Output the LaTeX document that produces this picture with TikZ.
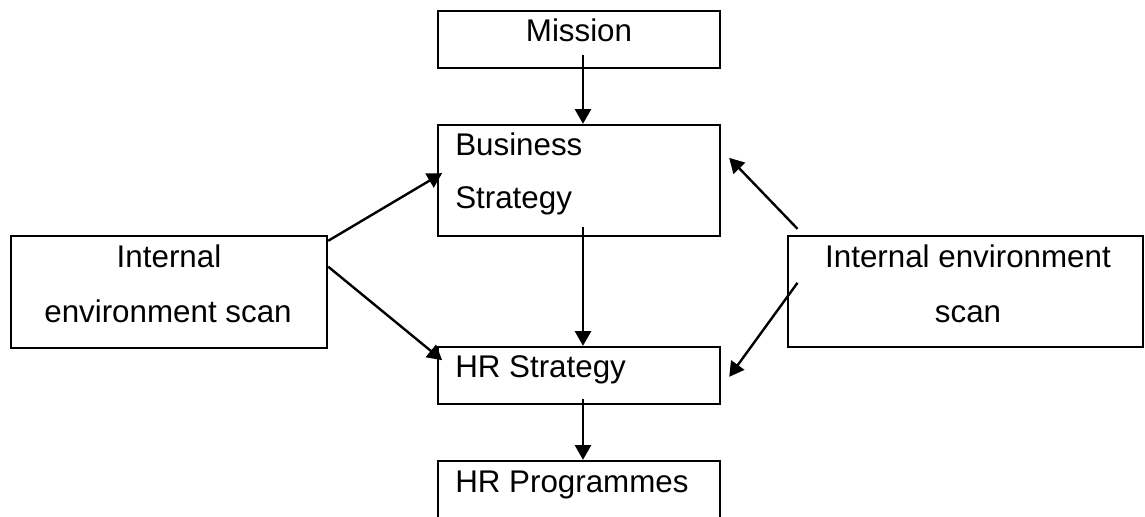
\documentclass[tikz,border=0pt]{standalone}
\usepackage{fontspec}
\setmainfont{Liberation Sans}
\usetikzlibrary{arrows.meta}
\usetikzlibrary{positioning}

\tikzset{
  box/.style={draw, line width=1.8pt, inner sep=0pt, minimum width=211.5pt},
  lbl/.style={font=\fontsize{23.5}{28}\selectfont, inner sep=0pt},
  arr/.style={line width=1.8pt, -{Triangle[length=11pt,width=12pt]}},
}

\begin{document}
\begin{tikzpicture}[x=0.75pt,y=0.75pt,yscale=-1,xscale=1]
\useasboundingbox (0,0) rectangle (1145,517);

%Boxes
\node[box, minimum height=42.75pt] (mission) at (579,39.5) {};
\node[box, minimum height=83.25pt] (busi) at (579,180.5) {};
\node[box, minimum height=42.75pt] (hrs) at (579,375.5) {};
\node[box, minimum height=44.25pt] (hrp) at (579,490.5) {};
\node[box, minimum width=237pt, minimum height=84pt] (lscan) at (169,292) {};
\node[box, minimum width=266.25pt, minimum height=83.25pt] (rscan) at (965.5,291.5) {};

% Text Node
\node[lbl, anchor=base] (t-mission) at (579,42) {Mission};
\node[lbl, anchor=base west] (t-busi1) at (455,155) {Business};
\node[lbl, anchor=base west] (t-busi2) at (455,208) {Strategy};
\node[lbl, anchor=base west] (t-hrs) at (455,377) {HR Strategy};
\node[lbl, anchor=base west] (t-hrp) at (455,492) {HR Programmes};
\node[lbl, anchor=base] (t-lscan1) at (169,267) {Internal};
\node[lbl, anchor=base] (t-lscan2) at (168,322) {environment scan};
\node[lbl, anchor=base] (t-rscan1) at (968,267) {Internal environment};
\node[lbl, anchor=base] (t-rscan2) at (968,322) {scan};

%Arrows
\draw[arr, shorten <=-11pt] ([xshift=3pt]mission.south) -- ([xshift=3pt]busi.north);
\draw[arr, shorten <=-8pt] ([xshift=3pt]busi.south) -- ([xshift=3pt]hrs.north);
\draw[arr, shorten <=-5pt] ([xshift=3pt]hrs.south) -- ([xshift=3pt]hrp.north);
\draw[arr] ([yshift=4.5pt]lscan.north east) -- ([shift={(4pt,-5.5pt)}]busi.west);
\draw[arr] ([yshift=-19pt]lscan.east) -- ([shift={(4pt,-11.5pt)}]hrs.west);
\draw[arr] ([shift={(8pt,-4.5pt)}]rscan.north west) -- ([shift={(6pt,-17pt)}]busi.east);
\draw[arr] ([shift={(8pt,-6.5pt)}]rscan.west) -- ([shift={(6pt,1pt)}]hrs.east);

\end{tikzpicture}
\end{document}
